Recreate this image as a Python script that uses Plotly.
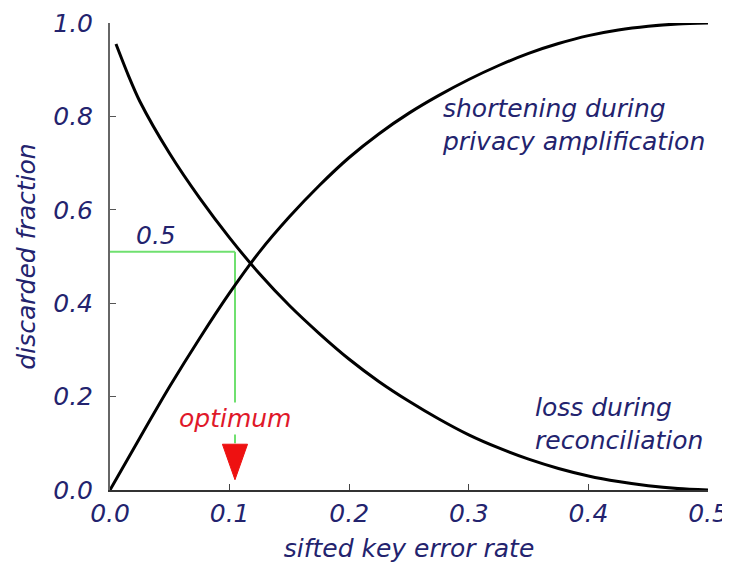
import plotly.graph_objects as go

# sifted key error rate grid
x_vals = [0.0, 0.025, 0.05, 0.075, 0.1, 0.125, 0.15, 0.175, 0.2, 0.225, 0.25,
          0.275, 0.3, 0.325, 0.35, 0.375, 0.4, 0.425, 0.45, 0.475, 0.5]

# loss during reconciliation (decreasing)
loss_x = [0.005, 0.015, 0.025, 0.05, 0.075, 0.1, 0.125, 0.15, 0.175, 0.2, 0.225, 0.25,
          0.275, 0.3, 0.325, 0.35, 0.375, 0.4, 0.425, 0.45, 0.475, 0.5]
loss_y = [0.955, 0.89, 0.832, 0.72, 0.625, 0.54, 0.463, 0.395, 0.335, 0.28, 0.232, 0.19,
          0.152, 0.118, 0.09, 0.066, 0.046, 0.030, 0.018, 0.009, 0.003, 0.0]

# shortening during privacy amplification (increasing)
short_y = [0.0, 0.112, 0.222, 0.325, 0.422, 0.51, 0.585, 0.652, 0.712, 0.763, 0.807,
           0.845, 0.879, 0.909, 0.935, 0.956, 0.973, 0.985, 0.993, 0.998, 1.0]

x_ticks = [0.0, 0.1, 0.2, 0.3, 0.4, 0.5]
x_tick_labels = ["0.0", "0.1", "0.2", "0.3", "0.4", "0.5"]
y_ticks = [0.0, 0.2, 0.4, 0.6, 0.8, 1.0]
y_tick_labels = ["0.0", "0.2", "0.4", "0.6", "0.8", "1.0"]

opt_x = 0.1045
opt_level = 0.51

NAVY = "#23236e"
FONT = "DejaVu Sans"

fig = go.Figure()
fig.add_trace(go.Scatter(x=loss_x, y=loss_y, mode="lines",
                         line=dict(color="black", width=3, shape="spline", smoothing=0.8),
                         hoverinfo="skip", showlegend=False))
fig.add_trace(go.Scatter(x=x_vals, y=short_y, mode="lines",
                         line=dict(color="black", width=3, shape="spline", smoothing=0.8),
                         hoverinfo="skip", showlegend=False))

# green guide lines
fig.add_shape(type="line", x0=0, x1=opt_x, y0=opt_level, y1=opt_level, xref="x", yref="y",
              line=dict(color="#6fe06f", width=2), layer="below")
fig.add_shape(type="line", x0=opt_x, x1=opt_x, y0=opt_level, y1=0.1, xref="x", yref="y",
              line=dict(color="#6fe06f", width=2), layer="below")
# red arrow head
fig.add_shape(type="path", xref="x", yref="y",
              path=f"M {opt_x-0.0105},0.098 L {opt_x+0.0105},0.098 L {opt_x},0.022 Z",
              fillcolor="#ee1111", line=dict(color="#ee1111", width=1))

ann_font = dict(family=FONT, size=25, color=NAVY, style="italic")
fig.add_annotation(x=opt_x, y=0.154, text="optimum", showarrow=False, xanchor="center", yanchor="middle",
                   font=dict(family=FONT, size=25, color="#e0182a", style="italic"), bgcolor="white")
fig.add_annotation(x=0.0385, y=0.546, text="0.5", showarrow=False, xanchor="center", yanchor="middle",
                   font=ann_font)
fig.add_annotation(x=0.276, y=0.782, text="shortening during<br>privacy amplification", showarrow=False,
                   xanchor="left", yanchor="middle", align="left", font=ann_font)
fig.add_annotation(x=0.354, y=0.141, text="loss during<br>reconciliation", showarrow=False,
                   xanchor="left", yanchor="middle", align="left", font=ann_font)

axis_font = dict(family=FONT, size=25, color=NAVY, style="italic")
fig.update_xaxes(range=[0, 0.5], tickvals=x_ticks, ticktext=x_tick_labels, ticks="inside", ticklen=6,
                 tickcolor="#444", showline=True, linecolor="#333", linewidth=2, showgrid=False,
                 zeroline=False, tickfont=axis_font, automargin=False,
                 title=dict(text="sifted key error rate", font=axis_font, standoff=12))
fig.update_yaxes(range=[0, 1.0], tickvals=y_ticks, ticktext=y_tick_labels, ticks="inside", ticklen=6,
                 tickcolor="#555", showline=True, linecolor="#666", linewidth=2, showgrid=False,
                 zeroline=False, tickfont=axis_font, ticklabelstandoff=10, automargin=False,
                 title=dict(text="discarded fraction", font=axis_font, standoff=10))
fig.update_layout(width=730, height=565, margin=dict(l=102, r=30, t=15, b=83),
                  plot_bgcolor="white", paper_bgcolor="white", font=dict(family=FONT))
fig.write_html("out.html")
